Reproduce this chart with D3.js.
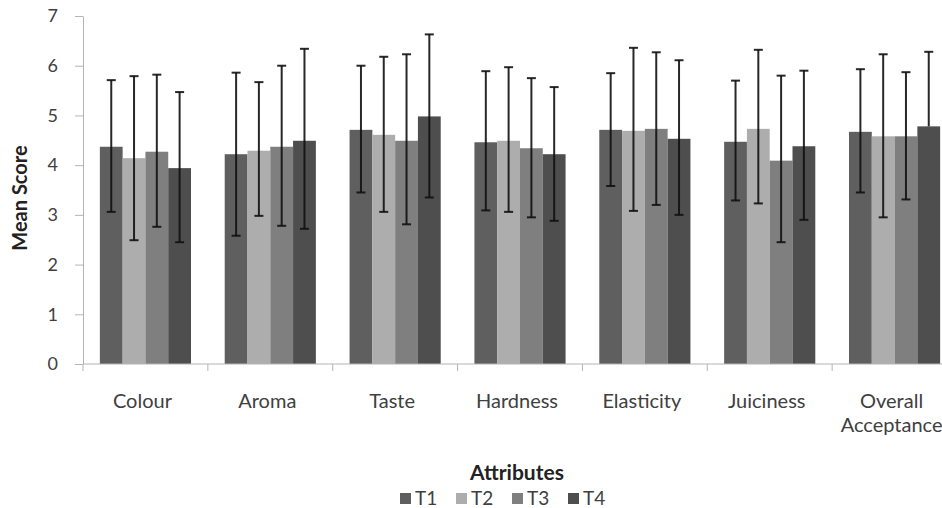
<!DOCTYPE html>
<html>
<head>
<meta charset="utf-8">
<script src="https://cdn.jsdelivr.net/npm/d3@7"></script>
<style>
  body { margin: 0; background: #fff; }
  svg { display: block; font-family: Lato, "Open Sans", sans-serif; }
</style>
</head>
<body>
<div id="chart"></div>
<script>
// attributes on x axis
var categories = ["Colour", "Aroma", "Taste", "Hardness", "Elasticity", "Juiciness", "Overall Acceptance"];
var series = ["T1", "T2", "T3", "T4"];
var colors = ["#5f5f5f", "#adadad", "#7f7f7f", "#4e4e4e"];

// mean scores per treatment
var t1 = [4.37, 4.22, 4.71, 4.46, 4.71, 4.47, 4.67];
var t2 = [4.14, 4.29, 4.61, 4.49, 4.69, 4.73, 4.58];
var t3 = [4.27, 4.37, 4.49, 4.34, 4.73, 4.09, 4.58];
var t4 = [3.94, 4.49, 4.98, 4.22, 4.53, 4.38, 4.78];

// error bar ends (top / bottom)
var t1Hi = [5.71, 5.86, 6.00, 5.89, 5.85, 5.70, 5.93];
var t1Lo = [3.06, 2.58, 3.45, 3.09, 3.58, 3.29, 3.45];
var t2Hi = [5.79, 5.67, 6.18, 5.97, 6.36, 6.32, 6.23];
var t2Lo = [2.49, 2.98, 3.06, 3.06, 3.08, 3.23, 2.95];
var t3Hi = [5.82, 6.00, 6.23, 5.75, 6.27, 5.80, 5.87];
var t3Lo = [2.76, 2.78, 2.81, 2.95, 3.20, 2.45, 3.31];
var t4Hi = [5.47, 6.34, 6.63, 5.57, 6.11, 5.90, 6.28];
var t4Lo = [2.45, 2.72, 3.35, 2.88, 3.00, 2.90, 4.78];

var yTicks = [0, 1, 2, 3, 4, 5, 6, 7];

var values = [t1, t2, t3, t4];
var his = [t1Hi, t2Hi, t3Hi, t4Hi];
var los = [t1Lo, t2Lo, t3Lo, t4Lo];

var W = 942, H = 508;
var plotLeft = 83, plotRight = 957, plotTop = 16, plotBottom = 364;

var svg = d3.select("#chart").append("svg")
    .attr("width", W)
    .attr("height", H)
    .style("overflow", "hidden");

var x = d3.scaleBand()
    .domain(categories)
    .range([plotLeft, plotRight])
    .paddingInner(0.27)
    .paddingOuter(0.135);

var xs = d3.scaleBand()
    .domain(series)
    .range([0, x.bandwidth()]);

var y = d3.scaleLinear()
    .domain([0, 7])
    .range([plotBottom, plotTop]);

// y axis
var yAxis = svg.append("g")
    .attr("transform", "translate(" + plotLeft + ",0)")
    .call(d3.axisLeft(y).tickValues(yTicks).tickFormat(d3.format("d"))
        .tickSize(8).tickSizeOuter(0).tickPadding(17));
yAxis.select(".domain").attr("stroke", "#b4b4b4");
yAxis.selectAll(".tick line").attr("stroke", "#b4b4b4");
yAxis.selectAll(".tick text")
    .attr("fill", "#404040")
    .style("font-size", "18px")
    .style("font-family", "Lato, sans-serif");

// bars
var rows = [];
categories.forEach(function(c, i) {
    series.forEach(function(s, j) {
        rows.push({cat: c, s: s, j: j, v: values[j][i], hi: his[j][i], lo: los[j][i]});
    });
});

svg.append("g").selectAll("rect")
    .data(rows)
    .enter()
    .append("rect")
    .attr("x", function(d) { return x(d.cat) + xs(d.s); })
    .attr("y", function(d) { return y(d.v); })
    .attr("width", xs.bandwidth())
    .attr("height", function(d) { return y(0) - y(d.v); })
    .attr("fill", function(d) { return colors[d.j]; });

// error bars
var eb = svg.append("g").attr("stroke", "#111").attr("stroke-width", 2).attr("stroke-opacity", 0.9);
rows.forEach(function(d) {
    var cx = x(d.cat) + xs(d.s) + xs.bandwidth() / 2;
    eb.append("line").attr("x1", cx).attr("x2", cx).attr("y1", y(d.hi)).attr("y2", y(d.lo));
    eb.append("line").attr("x1", cx - 4.5).attr("x2", cx + 4.5).attr("y1", y(d.hi)).attr("y2", y(d.hi));
    if (d.lo < d.v) {
        eb.append("line").attr("x1", cx - 4.5).attr("x2", cx + 4.5).attr("y1", y(d.lo)).attr("y2", y(d.lo));
    }
});

// x axis line and category separators
svg.append("line")
    .attr("x1", plotLeft).attr("x2", plotRight)
    .attr("y1", y(0)).attr("y2", y(0))
    .attr("stroke", "#b4b4b4");

var step = x.step();
svg.append("g").selectAll("line")
    .data(categories)
    .enter()
    .append("line")
    .attr("x1", function(d) { return x(d) - step * 0.135; })
    .attr("x2", function(d) { return x(d) - step * 0.135; })
    .attr("y1", y(0))
    .attr("y2", y(0) + 7)
    .attr("stroke", "#b4b4b4");

// category labels
svg.append("g").selectAll("text")
    .data(categories)
    .enter()
    .append("text")
    .attr("x", function(d) { return x(d) + x.bandwidth() / 2 - 3; })
    .attr("y", 408)
    .attr("text-anchor", "middle")
    .attr("fill", "#404040")
    .style("font-size", "20px")
    .each(function(d) {
        var words = d.split(" ");
        var t = d3.select(this);
        words.forEach(function(w, k) {
            t.append("tspan")
                .attr("x", x(d) + x.bandwidth() / 2 - 3)
                .attr("dy", k === 0 ? 0 : 24)
                .text(w);
        });
    });

// axis titles
svg.append("text")
    .attr("transform", "translate(27,198) rotate(-90)")
    .attr("text-anchor", "middle")
    .attr("fill", "#222")
    .style("font-size", "20px")
    .style("font-weight", "bold")
    .text("Mean Score");

svg.append("text")
    .attr("x", 517)
    .attr("y", 480)
    .attr("text-anchor", "middle")
    .attr("fill", "#222")
    .style("font-size", "21px")
    .style("font-weight", "bold")
    .text("Attributes");

// legend
var lg = svg.append("g").selectAll("g")
    .data(series)
    .enter()
    .append("g")
    .attr("transform", function(d, i) { return "translate(" + (400 + i * 56) + ",493)"; });
lg.append("rect")
    .attr("width", 11).attr("height", 11)
    .attr("fill", function(d, i) { return colors[i]; });
lg.append("text")
    .attr("x", 15)
    .attr("y", 12)
    .attr("fill", "#404040")
    .style("font-size", "19px")
    .text(function(d) { return d; });
</script>
</body>
</html>
